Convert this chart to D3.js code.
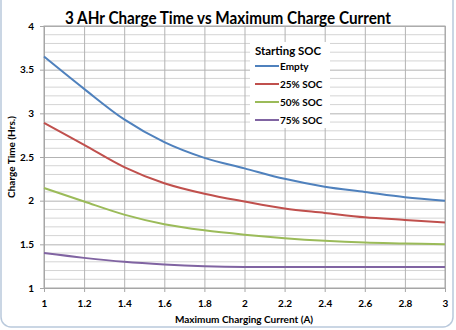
<!DOCTYPE html>
<html><head><meta charset="utf-8">
<script src="https://cdn.jsdelivr.net/npm/d3@7"></script>
<style>
html,body{margin:0;padding:0;background:#fff;}
svg{display:block;}
text{font-family:Lato,"Open Sans",sans-serif;font-weight:bold;fill:#000;}
</style></head>
<body>
<svg id="c" width="456" height="330"></svg>
<script>
const xValues = [1, 1.2, 1.4, 1.6, 1.8, 2, 2.2, 2.4, 2.6, 2.8, 3];
const seriesNames = ["Empty", "25% SOC", "50% SOC", "75% SOC"];
const emptySOC = [3.65, 3.28, 2.93, 2.67, 2.49, 2.37, 2.25, 2.16, 2.10, 2.04, 2.00];
const soc25 = [2.89, 2.64, 2.385, 2.20, 2.08, 1.99, 1.91, 1.86, 1.81, 1.78, 1.75];
const soc50 = [2.145, 1.99, 1.84, 1.73, 1.66, 1.61, 1.57, 1.54, 1.52, 1.51, 1.50];
const soc75 = [1.40, 1.345, 1.30, 1.27, 1.25, 1.24, 1.24, 1.24, 1.24, 1.24, 1.24];
const xTicks = [1, 1.2, 1.4, 1.6, 1.8, 2, 2.2, 2.4, 2.6, 2.8, 3];
const yTicks = [1, 1.5, 2, 2.5, 3, 3.5, 4];
const colors = ["#4F81BD", "#C0504D", "#9BBB59", "#8064A2"];
const allSeries = [emptySOC, soc25, soc50, soc75];

const svg = d3.select("#c");
const L = 44, R = 445, T = 26, B = 288;
const x = d3.scaleLinear().domain([1, 3]).range([L, R]);
const y = d3.scaleLinear().domain([1, 4]).range([B, T]);

// outer frame
svg.append("rect").attr("x", 1).attr("y", -12).attr("width", 452).attr("height", 339)
  .attr("rx", 10).attr("fill", "#fff").attr("stroke", "#b9c9dc").attr("stroke-width", 1.5);

// minor horizontal grid
const minor = d3.range(1, 4.001, 0.1).map(v => +v.toFixed(1)).filter(v => !yTicks.includes(v));
svg.append("g").selectAll("line").data(minor).join("line")
  .attr("x1", L).attr("x2", R).attr("y1", d => y(d)).attr("y2", d => y(d))
  .attr("stroke", "#d4d4d4").attr("stroke-width", 1);

// major grid
svg.append("g").attr("transform", `translate(0,${B})`)
  .call(d3.axisBottom(x).tickValues(xTicks).tickSize(-(B - T)).tickFormat(""))
  .call(g => g.select(".domain").remove())
  .call(g => g.selectAll("line").attr("stroke", "#b3b3b3"));
svg.append("g").attr("transform", `translate(${L},0)`)
  .call(d3.axisLeft(y).tickValues(yTicks).tickSize(-(R - L)).tickFormat(""))
  .call(g => g.select(".domain").remove())
  .call(g => g.selectAll("line").attr("stroke", "#b3b3b3"));

// plot border
svg.append("rect").attr("x", L).attr("y", T).attr("width", R - L).attr("height", B - T)
  .attr("fill", "none").attr("stroke", "#a6a6a6");

// axes with labels
const xa = svg.append("g").attr("transform", `translate(0,${B})`)
  .call(d3.axisBottom(x).tickValues(xTicks).tickSize(4).tickPadding(8).tickFormat(d3.format("")));
xa.select(".domain").attr("stroke", "#a6a6a6");
xa.selectAll("line").attr("stroke", "#a6a6a6");
xa.selectAll("text").attr("font-size", 10).attr("font-family", "Lato");
const ya = svg.append("g").attr("transform", `translate(${L},0)`)
  .call(d3.axisLeft(y).tickValues(yTicks).tickSize(4).tickPadding(6).tickFormat(d3.format("")));
ya.select(".domain").attr("stroke", "#a6a6a6");
ya.selectAll("line").attr("stroke", "#a6a6a6");
ya.selectAll("text").attr("font-size", 10).attr("font-family", "Lato");

// lines
const line = d3.line().x((d, i) => x(xValues[i])).y(d => y(d)).curve(d3.curveCatmullRom.alpha(0.5));
svg.append("g").selectAll("path").data(allSeries).join("path")
  .attr("d", d => line(d)).attr("fill", "none")
  .attr("stroke", (d, i) => colors[i]).attr("stroke-width", 2);

// title
svg.append("text").attr("x", 228).attr("y", 24).attr("text-anchor", "middle")
  .attr("font-size", 16.5).attr("textLength", 326).attr("lengthAdjust", "spacingAndGlyphs")
  .text("3 AHr Charge Time vs Maximum Charge Current");

// axis titles
svg.append("text").attr("x", 244).attr("y", 323).attr("text-anchor", "middle")
  .attr("font-size", 10).text("Maximum Charging Current (A)");
svg.append("text").attr("transform", `translate(15,${(T + B) / 2}) rotate(-90)`)
  .attr("text-anchor", "middle").attr("font-size", 10).text("Charge Time (Hrs.)");

// legend
const lg = svg.append("g");
lg.append("rect").attr("x", 250).attr("y", 42).attr("width", 80).attr("height", 86).attr("fill", "#fff");
lg.append("text").attr("x", 255).attr("y", 55).attr("font-size", 11.5)
  .attr("textLength", 66).attr("lengthAdjust", "spacingAndGlyphs").text("Starting SOC");
seriesNames.forEach((n, i) => {
  const yy = 66 + i * 18;
  lg.append("line").attr("x1", 255).attr("x2", 279).attr("y1", yy).attr("y2", yy)
    .attr("stroke", colors[i]).attr("stroke-width", 2);
  lg.append("text").attr("x", 280).attr("y", yy + 3.5).attr("font-size", 10).text(n);
});
</script>
</body></html>
